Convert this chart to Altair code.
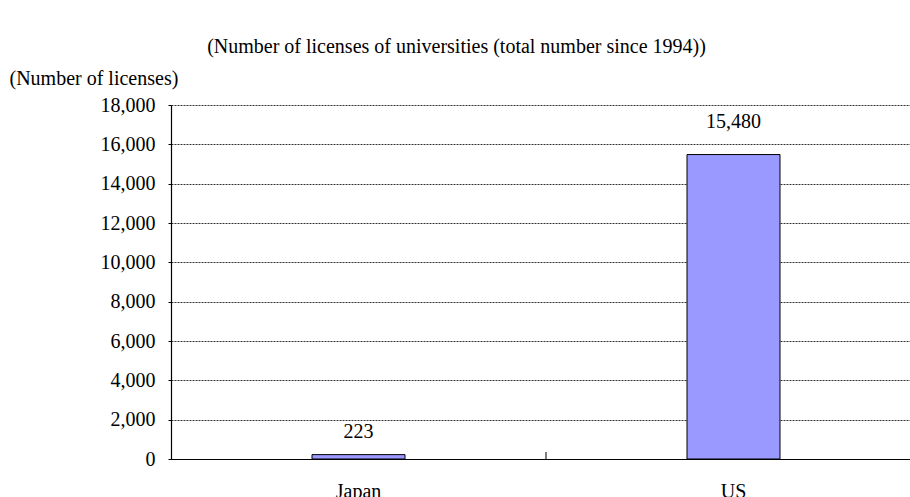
import altair as alt
import pandas as pd

countries = ["Japan", "US"]
licenses = [223, 15480]
y_ticks = [0, 2000, 4000, 6000, 8000, 10000, 12000, 14000, 16000, 18000]

title_text = "(Number of licenses of universities (total number since 1994))"
y_title = "(Number of licenses)"

df = pd.DataFrame({"country": countries, "licenses": licenses})
FONT = "Liberation Serif"

xscale = alt.Scale(domain=countries, range=[0, 750], paddingInner=0, paddingOuter=0)
yscale = alt.Scale(domain=[0, 18000], nice=False)

x_axis = alt.Axis(title=None, labelAngle=0, tickSize=0, labelPadding=22,
                  domainColor="black", domainWidth=1.2)
y_axis = alt.Axis(values=y_ticks, tickCount=len(y_ticks) + 2, format=",d", title=y_title,
                  titleAngle=0, titleX=-162, titleY=-27, titleAlign="left",
                  titleBaseline="middle", tickSize=3, tickColor="black",
                  labelOverlap=False, labelPadding=13, domainColor="black",
                  domainWidth=1.2, grid=True, gridColor="black", gridDash=[2, 1],
                  gridWidth=0.8)

X = alt.X("country:N", scale=xscale, sort=countries, axis=x_axis)
Y = alt.Y("licenses:Q", scale=yscale, axis=y_axis)

base = alt.Chart(df)

bars = base.mark_bar(size=93, color="#9999FF", stroke="black", strokeWidth=1).encode(
    x=X, y=Y)

label_jp = base.transform_filter(alt.datum.country == "Japan").mark_text(
    fontSize=20, color="black", baseline="middle", dy=-23
).encode(x=X, y=Y, text=alt.Text("licenses:Q", format=",d"))

label_us = base.transform_filter(alt.datum.country == "US").mark_text(
    fontSize=20, color="black", baseline="middle", dy=-33
).encode(x=X, y=Y, text=alt.Text("licenses:Q", format=",d"))

sep = alt.Chart(pd.DataFrame({"country": countries[1:]})).mark_rule(
    color="black", strokeWidth=1
).encode(
    x=alt.X("country:N", scale=xscale, sort=countries, bandPosition=0, axis=x_axis),
    y=alt.value(354),
    y2=alt.value(347),
)

chart = alt.layer(bars, sep, label_jp, label_us).properties(
    width=739,
    height=354,
    background="white",
    title=alt.TitleParams(title_text, anchor="middle", frame="group", dx=-84,
                          offset=-5, baseline="alphabetic"),
    autosize=alt.AutoSizeParams(type="none"),
    padding={"left": 171, "top": 105, "right": 0, "bottom": 38},
).configure_view(
    stroke=None
).configure_axis(
    labelFont=FONT, labelFontSize=20, labelColor="black",
    titleFont=FONT, titleFontSize=20, titleFontWeight="normal", titleColor="black",
).configure_text(
    font=FONT
).configure_title(
    font=FONT, fontSize=20, fontWeight="normal", color="black"
)

chart.save("out.html", embed_options={"renderer": "svg", "actions": False})
